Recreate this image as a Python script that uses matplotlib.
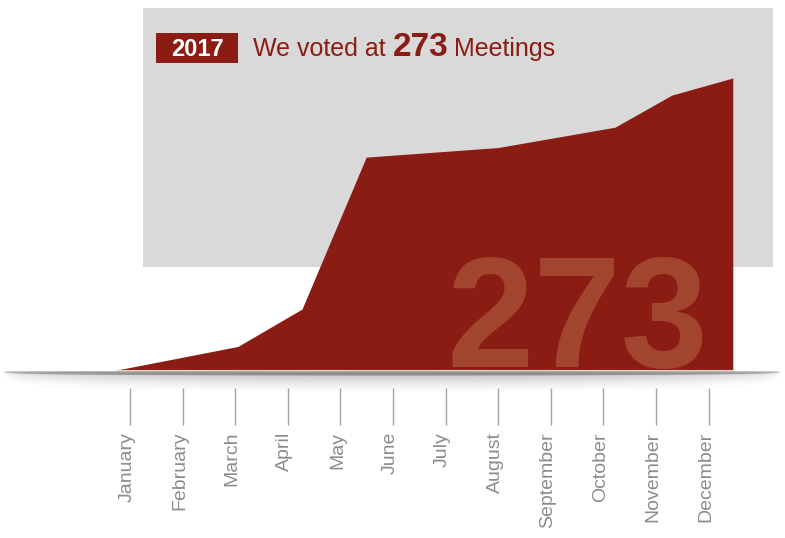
import numpy as np
import matplotlib.pyplot as plt
from matplotlib.patches import Rectangle

plt.rcParams['font.family'] = ['Liberation Sans', 'DejaVu Sans']

months = ['January', 'February', 'March', 'April', 'May', 'June', 'July',
          'August', 'September', 'October', 'November', 'December']
# running count of meetings; x is in month units (0 = January)
pos = [-0.25, 2.05, 3.27, 4.49, 7.0, 9.22, 10.3, 11.46]
meetings = [0, 22, 57, 199, 208, 227, 257, 273]
year = '2017'
total = 273

RED = '#8a1c14'
W, H = 785, 538

fig = plt.figure(figsize=(W / 100, H / 100), dpi=100)
ax = fig.add_axes([0, 0, 1, 1])
ax.axis('off')

# pixel layout of the graphic
x0, dx = 130, 52.6     # January tick, pixels per month
y0, ytop = 370, 78     # baseline, height of the final count
k = total / (y0 - ytop)


def px(x, y):
    return (x - x0) / dx, (y0 - y) * k


# grey panel behind the chart
gx, gy = px(143, 267)
ax.add_patch(Rectangle((gx, gy), (773 - 143) / dx, (267 - 8) * k,
                       facecolor='#d9d9d9', edgecolor='none', zorder=0))

# the area itself
ax.fill_between(pos, meetings, 0, color=RED, lw=0, zorder=2)
ax.plot([pos[0], pos[-1]], [0, 0], color='#e6c9c2', lw=0.8, zorder=3)

# big watermark number
wx, wy = px(577, 367)
ax.text(wx, wy, str(total), fontsize=113, fontweight='bold', color='#a2452f',
        ha='center', va='baseline', zorder=3)

# shelf line with a soft shadow underneath
xs = np.arange(0, W) + 0.5
ys = np.arange(368, 408) + 0.5
XX, YY = np.meshgrid(xs, ys)
u = np.clip(np.abs(XX - 392) / 388, 0, 1)
ell = np.sqrt(1 - u ** 2)
dy = YY - 371.5
thick = 4.0 * ell ** 0.5
line = np.clip(np.minimum(dy + 0.5, thick - dy + 0.5), 0, 1) * 0.8 * ell ** 0.3
depth = 18 * ell ** 0.4 + 1e-6
sh = np.clip(1 - (dy - thick) / depth, 0, 1) ** 1.5 * 0.42 * ell ** 0.6
sh[dy < 0] = 0
rgba = np.zeros(XX.shape + (4,))
rgba[..., :3] = 0.5
rgba[..., 3] = line + sh * (1 - line)
ex0, ey0 = px(0, 408)
ex1, ey1 = px(W, 368)
ax.imshow(rgba, extent=[ex0, ex1, ey0, ey1], origin='upper', aspect='auto',
          interpolation='nearest', zorder=1)

# month ticks and labels
_, t0 = px(0, 388)
_, t1 = px(0, 425)
ax.vlines(range(len(months)), t1, t0, color='#a3a3a3', lw=1, zorder=2)
_, ly = px(0, 432)
for i, m in enumerate(months):
    ax.text(i + 1.5 / dx, ly, m, rotation=90, rotation_mode='anchor',
            ha='right', va='baseline', fontsize=14, color='#8c8c8c')

# heading
bx, by = px(156, 63)
ax.add_patch(Rectangle((bx, by), (238 - 156) / dx, 30 * k,
                       facecolor=RED, edgecolor='none', zorder=4))
cx, cy = px(197, 56)
ax.text(cx, cy, year, fontsize=17, fontweight='bold', color='white',
        ha='center', va='baseline', zorder=5)

ax.set_xlim(-x0 / dx, (W - x0) / dx)
ax.set_ylim(-(H - y0) * k, y0 * k)

hx, hy = px(253, 56)
t = ax.text(hx, hy, 'We voted at ', fontsize=18, color=RED,
            ha='left', va='baseline', zorder=5)
fig.canvas.draw()
r = fig.canvas.get_renderer()
inv = ax.transData.inverted()
ext = t.get_window_extent(r)
nx = inv.transform((ext.x1, 0))[0]
t2 = ax.text(nx, hy, str(total), fontsize=24, fontweight='bold', color=RED,
             ha='left', va='baseline', zorder=5)
ext = t2.get_window_extent(r)
nx = inv.transform((ext.x1 + 6, 0))[0]
ax.text(nx, hy, 'Meetings', fontsize=18, color=RED,
        ha='left', va='baseline', zorder=5)

fig.savefig('out.png', dpi=100, facecolor='white')
